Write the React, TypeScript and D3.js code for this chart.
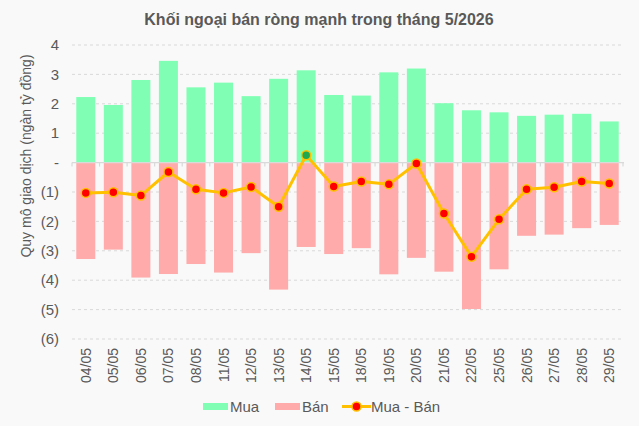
import React from "react";
import * as d3 from "d3";

// phiên giao dịch tháng 5/2026
const days = [
  "04/05", "05/05", "06/05", "07/05", "08/05", "11/05", "12/05", "13/05", "14/05", "15/05",
  "18/05", "19/05", "20/05", "21/05", "22/05", "25/05", "26/05", "27/05", "28/05", "29/05",
];

// giá trị mua (ngàn tỷ đồng)
const buy = [
  2.23, 1.96, 2.81, 3.46, 2.56, 2.72, 2.26, 2.85, 3.14, 2.3,
  2.28, 3.07, 3.2, 2.02, 1.78, 1.71, 1.59, 1.63, 1.66, 1.4,
];

// giá trị bán (ngàn tỷ đồng)
const sell = [
  3.28, 2.96, 3.91, 3.79, 3.45, 3.74, 3.08, 4.32, 2.87, 3.11,
  2.91, 3.8, 3.24, 3.71, 4.98, 3.63, 2.49, 2.45, 2.23, 2.12,
];

// mua - bán
const net = [
  -1.03, -1.01, -1.12, -0.32, -0.91, -1.03, -0.83, -1.5, 0.25, -0.81,
  -0.64, -0.74, -0.03, -1.73, -3.2, -1.93, -0.91, -0.84, -0.64, -0.71,
];

const yTicks = [4, 3, 2, 1, 0, -1, -2, -3, -4, -5, -6];

const W = 639;
const H = 426;
const FONT = "'Liberation Sans', Arial, sans-serif";
const GREEN = "#80FFB4";
const PINK = "#FFABAB";
const LINE = "#FFC000";
const TEXT = "#595959";
const GRID = "#D9D9D9";

const fmt = (v: number) => (v === 0 ? "-" : v < 0 ? `(${-v})` : `${v}`);

export default function App() {
  const x = d3.scaleBand<string>().domain(days).range([72, 623]).paddingInner(0.31).paddingOuter(0.155);
  const y = d3.scaleLinear().domain([-6, 4]).range([339, 45]);
  const step = x.step();
  const cx = (d: string) => (x(d) as number) + x.bandwidth() / 2;

  const line = d3
    .line<number>()
    .x((_, i) => cx(days[i]))
    .y(v => y(v));

  const boundaries = d3.range(days.length + 1).map(i => 72 + i * step);

  return (
    <svg
      width={W}
      height={H}
      style={{ position: "absolute", left: 0, top: 0, background: "#F9F9F9" }}
      fontFamily={FONT}
    >
      <rect width={W} height={H} fill="#F9F9F9" />
      <text x={319} y={24.5} textAnchor="middle" fontSize={16} fontWeight="bold" fill={TEXT}>
        Khối ngoại bán ròng mạnh trong tháng 5/2026
      </text>

      {/* lưới ngang */}
      {yTicks.filter(t => t !== 0).map(t => (
        <line key={t} x1={72} x2={623} y1={y(t)} y2={y(t)} stroke={GRID} strokeDasharray="3,3" />
      ))}
      {yTicks.map(t => (
        <text key={t} x={59} y={y(t)} dy="0.35em" textAnchor="end" fontSize={15} fill={TEXT}>
          {fmt(t)}
        </text>
      ))}

      <text
        transform="translate(31, 156) rotate(-90)"
        textAnchor="middle"
        fontSize={14}
        fill={TEXT}
      >
        Quy mô giao dịch (ngàn tỷ đồng)
      </text>

      {/* cột mua / bán */}
      {days.map((d, i) => (
        <g key={d}>
          <rect x={x(d)} y={y(buy[i])} width={x.bandwidth()} height={y(0) - y(buy[i])} fill={GREEN} />
          <rect x={x(d)} y={y(0)} width={x.bandwidth()} height={y(-sell[i]) - y(0)} fill={PINK} />
        </g>
      ))}

      {/* trục 0 */}
      <line x1={72} x2={624} y1={y(0)} y2={y(0)} stroke={GRID} strokeWidth={1.2} />
      {boundaries.map((b, i) => (
        <line key={i} x1={b} x2={b} y1={y(0)} y2={y(0) + 4} stroke={GRID} strokeWidth={1.2} />
      ))}

      <path d={line(net) ?? ""} fill="none" stroke={LINE} strokeWidth={3} strokeLinejoin="round" />
      {net.map((v, i) => (
        <circle
          key={i}
          cx={cx(days[i])}
          cy={y(v)}
          r={4.5}
          fill={v > 0 ? "#1FA84F" : "#FF0000"}
          stroke={LINE}
          strokeWidth={1.5}
        />
      ))}

      {days.map(d => (
        <text
          key={d}
          transform={`translate(${cx(d) + 5}, 348) rotate(-90)`}
          textAnchor="end"
          fontSize={14}
          fill={TEXT}
        >
          {d}
        </text>
      ))}

      {/* chú thích */}
      <g fontSize={15} fill={TEXT}>
        <rect x={203} y={403} width={25} height={7} fill={GREEN} />
        <text x={230} y={412}>Mua</text>
        <rect x={275} y={403} width={25} height={7} fill={PINK} />
        <text x={302} y={412}>Bán</text>
        <line x1={342} x2={371} y1={406.5} y2={406.5} stroke={LINE} strokeWidth={3} />
        <circle cx={356.5} cy={406.5} r={4.5} fill="#FF0000" stroke={LINE} strokeWidth={1.5} />
        <text x={371} y={412}>Mua - Bán</text>
      </g>
    </svg>
  );
}
